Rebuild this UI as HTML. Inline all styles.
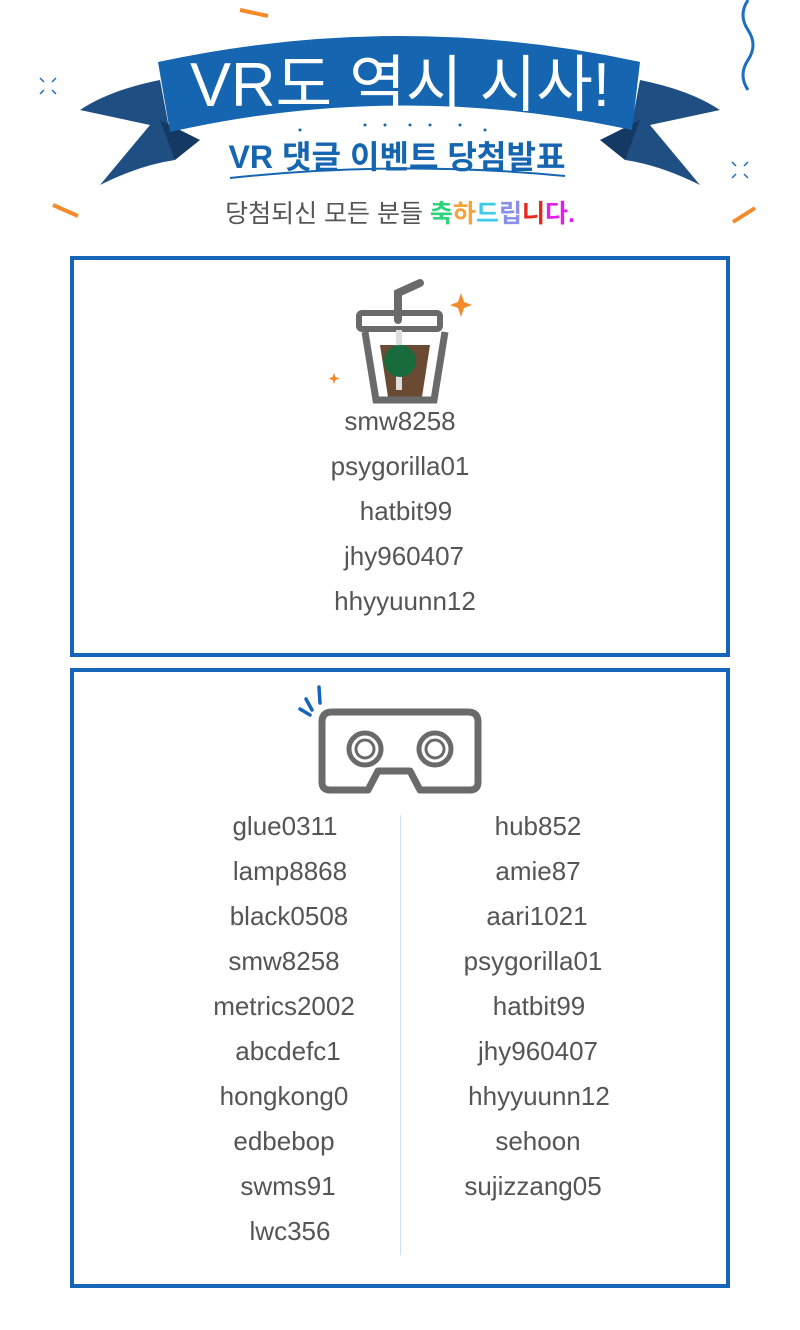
<!DOCTYPE html>
<html><head><meta charset="utf-8"><style>
body{margin:0;width:800px;height:1330px;background:#fff;position:relative;overflow:hidden;font-family:"Liberation Sans","Noto Sans CJK KR",sans-serif}
.a{position:absolute}
.box{position:absolute;left:70px;width:652px;border:4px solid #1565b8}
.n{position:absolute;width:300px;text-align:center;font-size:26px;color:#555;line-height:30px}
</style></head><body>
<svg class="a" style="left:0;top:0" width="800" height="250">
<line x1="240" y1="10" x2="268" y2="16" stroke="#f58a2a" stroke-width="4"/>
<line x1="53" y1="205" x2="78" y2="216" stroke="#f58a2a" stroke-width="4"/>
<line x1="733" y1="222" x2="755" y2="208" stroke="#f58a2a" stroke-width="4"/>
<path d="M748 0 q-10 15 0 30 q10 15 0 30 q-10 15 0 30" fill="none" stroke="#1e6fc0" stroke-width="3"/>
<g stroke="#1e6fc0" stroke-width="1.5"><path d="M40 78l4 4M56 78l-4 4M40 94l4-4M56 94l-4-4M732 162l4 4M748 162l-4 4M732 178l4-4M748 178l-4-4"/></g>
<path d="M160 80 Q110 90 80 110 L150 125 L100 185 Q140 165 175 160 Z" fill="#1f4f82"/>
<path d="M640 80 Q690 90 720 110 L650 125 L700 185 Q660 165 625 160 Z" fill="#1f4f82"/>
<path d="M160 120 L175 160 L200 140 Z" fill="#143a63"/>
<path d="M640 120 L625 160 L600 140 Z" fill="#143a63"/>
<path d="M158 62 Q400 10 640 62 L632 130 Q400 80 170 132 Z" fill="#1565b0"/>
<text x="400" y="106" text-anchor="middle" font-size="62" fill="#fff" textLength="420" lengthAdjust="spacingAndGlyphs" font-family="Liberation Sans,Noto Sans CJK KR,sans-serif">VR도 역시 시사!</text>
<g fill="#1565b0"><circle cx="365" cy="125" r="1.5"/><circle cx="385" cy="125" r="1.5"/><circle cx="410" cy="125" r="1.5"/><circle cx="430" cy="125" r="1.5"/><circle cx="460" cy="125" r="1.5"/><circle cx="485" cy="130" r="1.5"/><circle cx="300" cy="130" r="1.5"/></g>
<text x="397" y="168" text-anchor="middle" font-size="32" font-weight="bold" fill="#1565b0" textLength="337" lengthAdjust="spacingAndGlyphs" font-family="Liberation Sans,Noto Sans CJK KR,sans-serif">VR 댓글 이벤트 당첨발표</text>
<path d="M230 178 Q400 160 565 176" fill="none" stroke="#1565b0" stroke-width="2"/>
<text x="400" y="222" text-anchor="middle" font-size="25" fill="#555" font-family="Liberation Sans,Noto Sans CJK KR,sans-serif">당첨되신 모든 분들 <tspan font-weight="bold" fill="#2ed47a">축</tspan><tspan font-weight="bold" fill="#f7a23a">하</tspan><tspan font-weight="bold" fill="#3ccbe8">드</tspan><tspan font-weight="bold" fill="#8a8fe8">립</tspan><tspan font-weight="bold" fill="#e8261c">니</tspan><tspan font-weight="bold" fill="#e21ee8">다.</tspan></text>
</svg>

<div class="box" style="top:256px;height:393px"></div>
<svg class="a" style="left:320px;top:275px" width="160" height="130">
<path d="M78 45 V18 L100 8" fill="none" stroke="#6a6a6a" stroke-width="8" stroke-linecap="round"/>
<rect x="39" y="38" width="81" height="16" rx="3" fill="none" stroke="#6a6a6a" stroke-width="6"/>
<path d="M60 70 L68 122 L102 122 L110 70 Z" fill="#6b4a33"/>
<rect x="76" y="55" width="6" height="60" fill="#ddd"/>
<circle cx="80" cy="86" r="16" fill="#176b3c"/>
<path d="M45 57 L56 125 L114 125 L125 57" fill="none" stroke="#6a6a6a" stroke-width="7"/>
<path d="M141 18 l3 9 l8 3 l-8 3 l-3 9 l-3 -9 l-8 -3 l8 -3 z" fill="#f58a2a"/>
<path d="M14 98 l1.5 4 l4 1.5 l-4 1.5 l-1.5 4 l-1.5 -4 l-4 -1.5 l4 -1.5 z" fill="#f58a2a"/>
</svg>
<div class="n" style="left:250px;top:406px">smw8258</div>
<div class="n" style="left:250px;top:451px">psygorilla01</div>
<div class="n" style="left:256px;top:496px">hatbit99</div>
<div class="n" style="left:254px;top:541px">jhy960407</div>
<div class="n" style="left:255px;top:586px">hhyyuunn12</div>

<div class="box" style="top:668px;height:612px"></div>
<svg class="a" style="left:290px;top:685px" width="200" height="115">
<path d="M10 24 L20 30 M16 14 L22 25 M29 2 L30 18" stroke="#1565b8" stroke-width="3.5" stroke-linecap="round"/>
<path d="M42 27 H178 Q188 27 188 37 V97 Q188 105 180 105 H130 L120 86 H88 L78 105 H40 Q32 105 32 97 V37 Q32 27 42 27 Z" fill="none" stroke="#6a6a6a" stroke-width="7" stroke-linejoin="round"/>
<circle cx="75" cy="64" r="16" fill="none" stroke="#6a6a6a" stroke-width="5"/><circle cx="75" cy="64" r="9" fill="none" stroke="#6a6a6a" stroke-width="3"/>
<circle cx="145" cy="64" r="16" fill="none" stroke="#6a6a6a" stroke-width="5"/><circle cx="145" cy="64" r="9" fill="none" stroke="#6a6a6a" stroke-width="3"/>
</svg>
<div class="a" style="left:400px;top:815px;width:1px;height:440px;background:#cfe0ef"></div>
<div class="n" style="left:135px;top:811px">glue0311</div>
<div class="n" style="left:140px;top:856px">lamp8868</div>
<div class="n" style="left:139px;top:901px">black0508</div>
<div class="n" style="left:134px;top:946px">smw8258</div>
<div class="n" style="left:134px;top:991px">metrics2002</div>
<div class="n" style="left:138px;top:1036px">abcdefc1</div>
<div class="n" style="left:134px;top:1081px">hongkong0</div>
<div class="n" style="left:134px;top:1126px">edbebop</div>
<div class="n" style="left:138px;top:1171px">swms91</div>
<div class="n" style="left:140px;top:1216px">lwc356</div>
<div class="n" style="left:388px;top:811px">hub852</div>
<div class="n" style="left:388px;top:856px">amie87</div>
<div class="n" style="left:387px;top:901px">aari1021</div>
<div class="n" style="left:383px;top:946px">psygorilla01</div>
<div class="n" style="left:389px;top:991px">hatbit99</div>
<div class="n" style="left:388px;top:1036px">jhy960407</div>
<div class="n" style="left:389px;top:1081px">hhyyuunn12</div>
<div class="n" style="left:388px;top:1126px">sehoon</div>
<div class="n" style="left:383px;top:1171px">sujizzang05</div>
</body></html>
